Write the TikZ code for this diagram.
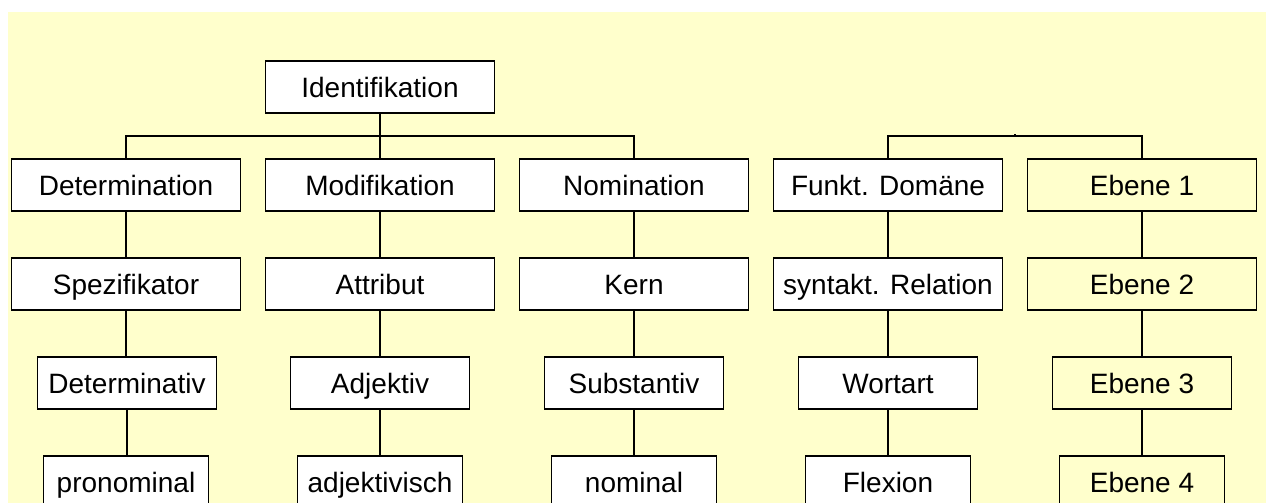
\documentclass[tikz,border=0pt]{standalone}
\usepackage{fontspec}
\setmainfont{Liberation Sans}
\definecolor{bg}{RGB}{255,255,204}
\begin{document}
\begin{tikzpicture}[x=1pt,y=-1pt,
  box/.style={draw=black,line width=1.6pt,fill=white,inner sep=0pt,
    minimum height=52pt,text height=20pt,text depth=0pt,
    font=\fontsize{28}{32}\selectfont},
  ybox/.style={box,fill=bg},
  wA/.style={minimum width=229pt},
  wB/.style={minimum width=179pt},
  wC/.style={minimum width=165pt},
  conn/.style={line width=1.3pt,draw=black}]
\clip (0,0) rectangle (1266,503);
\fill[white] (0,0) rectangle (1266,503);
\fill[bg] (8,12) rectangle (1266,503);

\node[box,wA] (ident) at (380,87) {Identifikation};

\node[box,wA] (det) at (126,185) {Determination};
\node[box,wA] (mod) at (380,185) {Modifikation};
\node[box,wA] (nom) at (634,185) {Nomination};
\node[box,wA] (fun) at (888,185) {Funkt. Domäne};
\node[ybox,wA] (eb1) at (1142,185) {Ebene 1};

\node[box,wA] (spe) at (126,284) {Spezifikator};
\node[box,wA] (att) at (380,284) {Attribut};
\node[box,wA] (ker) at (634,284) {Kern};
\node[box,wA] (syn) at (888,284) {syntakt. Relation};
\node[ybox,wA] (eb2) at (1142,284) {Ebene 2};

\node[box,wB] (dtv) at (127,383) {Determinativ};
\node[box,wB] (adj) at (380,383) {Adjektiv};
\node[box,wB] (sub) at (634,383) {Substantiv};
\node[box,wB] (wor) at (888,383) {Wortart};
\node[ybox,wB] (eb3) at (1142,383) {Ebene 3};

\node[box,wC] (prn) at (126,482) {pronominal};
\node[box,wC] (adv) at (380,482) {adjektivisch};
\node[box,wC] (nml) at (634,482) {nominal};
\node[box,wC] (fle) at (888,482) {Flexion};
\node[ybox,wC] (eb4) at (1142,482) {Ebene 4};

\coordinate (bar) at (380,136);
\coordinate (bar2) at (1015,136);

\draw[conn] (ident.south) -- (mod.north);
\draw[conn] (det.north) -- (det.north |- bar) -- (nom.north |- bar) -- (nom.north);
\draw[conn] (fun.north) -- (fun.north |- bar2) -- (eb1.north |- bar2) -- (eb1.north);
\draw[conn] (bar2) -- ++(0,-2);

\foreach \a/\b in {det/spe,spe/dtv,dtv/prn,mod/att,att/adj,adj/adv,
  nom/ker,ker/sub,sub/nml,fun/syn,syn/wor,wor/fle,eb1/eb2,eb2/eb3,eb3/eb4}
  \draw[conn] (\a.south) -- (\a.south |- \b.north);
\end{tikzpicture}
\end{document}
